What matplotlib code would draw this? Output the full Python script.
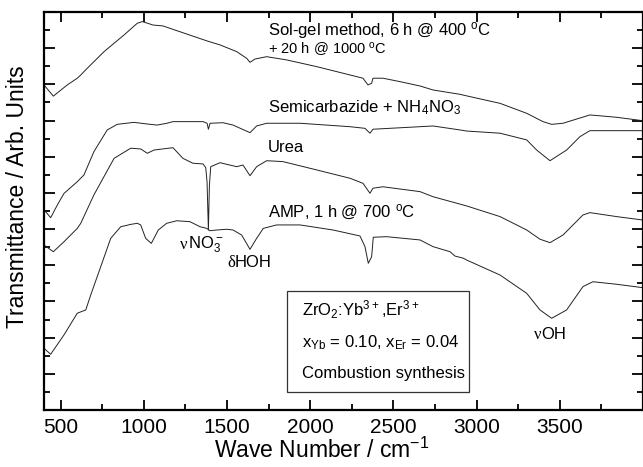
import matplotlib
matplotlib.use("Agg")
import matplotlib.pyplot as plt
from matplotlib.patches import Rectangle
from matplotlib.ticker import MultipleLocator, FixedLocator

plt.rcParams["font.family"] = ["Liberation Sans", "DejaVu Sans"]
plt.rcParams["mathtext.default"] = "regular"

# ── data (wave number / cm-1, transmittance offset in arb. units) ──────────
solgel_wn = [400, 456, 540, 600, 621, 660, 761, 881, 961, 991, 1055, 1115, 1217,
             1380, 1458, 1558, 1618, 1638, 1668, 1738, 1859, 2039, 2239, 2317, 2347,
             2369, 2377, 2437, 2540, 2660, 2738, 2900, 2942, 3141, 3301, 3399, 3451,
             3519, 3681, 3842, 4000]
solgel_T = [17.97, 17.35, 17.97, 18.34, 18.52, 18.89, 19.81, 20.73, 21.38, 21.47,
            21.28, 21.23, 20.91, 20.40, 20.18, 19.81, 19.44, 19.22, 19.40, 19.53,
            19.35, 18.98, 18.52, 18.34, 17.97, 18.06, 18.34, 18.34, 18.15, 17.91,
            17.69, 17.45, 17.36, 16.95, 16.40, 15.94, 15.79, 15.85, 16.31, 16.18, 15.99]

semi_wn = [410, 440, 480, 520, 600, 640, 700, 780, 840, 941, 1019, 1079, 1139, 1175,
           1356, 1380, 1388, 1398, 1476, 1536, 1638, 1678, 1738, 1939, 2239, 2329,
           2359, 2377, 2660, 2738, 2900, 2940, 3141, 3301, 3361, 3441, 3541, 3621,
           3681, 4000]
semi_T = [10.96, 10.63, 11.33, 11.97, 12.62, 12.99, 14.28, 15.48, 15.79, 15.90,
          15.81, 15.75, 15.85, 15.94, 15.94, 15.85, 15.52, 15.85, 15.88, 15.75,
          15.33, 15.70, 15.85, 15.85, 15.66, 15.57, 15.30, 15.52, 15.66, 15.70,
          15.48, 15.42, 15.30, 14.93, 14.37, 13.78, 14.37, 15.11, 15.44, 15.44]

urea_wn = [400, 456, 520, 600, 621, 700, 821, 921, 981, 1021, 1061, 1175, 1235, 1295,
           1356, 1372, 1380, 1388, 1394, 1402, 1458, 1558, 1596, 1638, 1678, 1738,
           1836, 2039, 2239, 2317, 2359, 2377, 2437, 2660, 2738, 2940, 3141, 3301,
           3381, 3441, 3519, 3639, 3681, 3842, 4000]
urea_T = [9.12, 8.75, 9.30, 10.04, 10.32, 11.89, 13.91, 14.47, 14.43, 14.19, 14.37,
          14.50, 13.91, 13.64, 13.60, 13.40, 12.60, 9.95, 12.40, 13.45, 13.67, 13.45,
          13.54, 12.95, 13.45, 13.78, 13.73, 13.27, 12.81, 12.53, 11.98, 12.26,
          12.34, 12.07, 11.79, 11.28, 10.69, 9.95, 9.44, 9.25, 9.67, 10.78, 10.91,
          10.69, 10.50]

amp_wn = [400, 440, 520, 600, 651, 681, 801, 861, 921, 961, 981, 1011, 1045, 1087,
          1137, 1198, 1277, 1338, 1378, 1398, 1438, 1498, 1536, 1588, 1638, 1678,
          1718, 1798, 1939, 2137, 2299, 2329, 2349, 2369, 2379, 2460, 2660, 2738,
          2840, 2870, 2920, 2940, 3141, 3301, 3381, 3451, 3541, 3639, 3699, 3842, 4000]
amp_T = [3.41, 3.08, 4.15, 5.35, 5.53, 6.36, 9.49, 10.13, 10.26, 10.32, 10.23, 9.49,
         9.21, 9.95, 10.32, 10.46, 10.41, 10.13, 10.04, 9.91, 9.95, 9.99, 9.95, 9.67,
         8.88, 9.49, 10.04, 10.23, 10.23, 9.95, 9.62, 9.03, 8.11, 8.47, 9.55, 9.58,
         9.40, 9.03, 8.75, 8.51, 8.39, 8.29, 7.46, 6.45, 5.53, 5.07, 5.53, 6.82,
         7.09, 6.95, 6.76]

x_ticks = [500, 1000, 1500, 2000, 2500, 3000, 3500]

# ── figure ──────────────────────────────────────────────────────────────────
fig = plt.figure(figsize=(6.43, 4.67), dpi=100)
ax = fig.add_axes([44 / 643, 1 - 410 / 467, 1 - 44 / 643, (410 - 12) / 467])

for wn, t in ((solgel_wn, solgel_T), (semi_wn, semi_T),
              (urea_wn, urea_T), (amp_wn, amp_T)):
    ax.plot(wn, t, color="#222222", linewidth=0.7)

ax.set_xlim(400, 4000)
ax.set_ylim(0, 22)

ax.xaxis.set_major_locator(FixedLocator(x_ticks))
ax.xaxis.set_minor_locator(MultipleLocator(250))
ax.yaxis.set_major_locator(MultipleLocator(2))
ax.yaxis.set_minor_locator(MultipleLocator(1))
ax.set_yticklabels([])
ax.tick_params(which="both", direction="in", top=True, right=True, width=1.3,
               color="black")
ax.tick_params(which="major", length=7)
ax.tick_params(which="minor", length=4)
ax.tick_params(axis="x", labelsize=15, pad=6)
ax.tick_params(axis="y", which="major", length=8)
for sp in ax.spines.values():
    sp.set_linewidth(1.6)

ax.set_xlabel("Wave Number / cm$^{-1}$", fontsize=16.5)
ax.xaxis.set_label_coords((322 - 44) / 599, -(438 - 410) / 398)
ax.set_ylabel("Transmittance / Arb. Units", fontsize=16.5)
ax.yaxis.set_label_coords(-(44 - 29) / 599, (410 - 197) / 398)

# curve labels
lab_x = 1746
ax.text(lab_x, 20.95, "Sol-gel method, 6 h @ 400 $^{o}$C", fontsize=12, va="center")
ax.text(lab_x, 19.95, "+ 20 h @ 1000 $^{o}$C", fontsize=10.5, va="center")
ax.text(lab_x, 16.7, "Semicarbazide + NH$_4$NO$_3$", fontsize=12, va="center")
ax.text(lab_x, 14.5, "Urea", fontsize=12, va="center")
ax.text(lab_x, 10.95, "AMP, 1 h @ 700 $^{o}$C", fontsize=12, va="center")

# band assignments (greek letter in a serif face, rest in sans)
serif = ["Liberation Serif", "DejaVu Serif"]
ax.text(1217, 9.12, "ν", fontsize=12, va="center", family=serif)
ax.annotate("NO$_3^-$", (1217, 9.12), xytext=(5.5, 0), textcoords="offset points",
            fontsize=12, va="center")
ax.text(1500, 8.13, "δ", fontsize=12, va="center", family=serif)
ax.annotate("HOH", (1500, 8.13), xytext=(5.5, 0), textcoords="offset points",
            fontsize=12, va="center")
ax.text(3345, 4.15, "ν", fontsize=12, va="center", family=serif)
ax.annotate("OH", (3345, 4.15), xytext=(5.5, 0), textcoords="offset points",
            fontsize=12, va="center")

# info box
ax.add_patch(Rectangle((1860, 0.995), 2954 - 1860, 6.58 - 0.995, fill=False,
                       edgecolor="#333333", linewidth=0.9))
ax.text(1951, 5.53, "ZrO$_2$:Yb$^{3+}$,Er$^{3+}$", fontsize=12, va="center")
ax.text(1951, 3.70, "x$_{Yb}$ = 0.10, x$_{Er}$ = 0.04", fontsize=12, va="center")
ax.text(1951, 1.99, "Combustion synthesis", fontsize=12, va="center")

fig.savefig("out.png", dpi=100, facecolor="white")
